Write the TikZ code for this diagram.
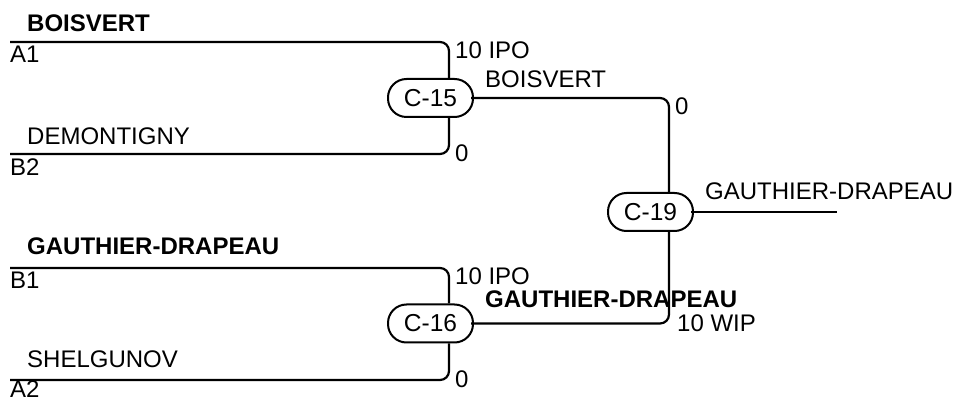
\documentclass[tikz,border=0pt]{standalone}
\usepackage{fontspec}
\setmainfont{Liberation Sans}
\begin{document}
\begin{tikzpicture}[x=1pt,y=-1pt,
  lbl/.style={anchor=base west,inner sep=0pt,font=\fontsize{24}{27}\selectfont},
  blbl/.style={lbl,font=\fontsize{24}{27}\selectfont\bfseries},
  match/.style={draw,line width=2pt,rounded corners=18.5pt,minimum width=85pt,minimum height=38pt,inner sep=0pt,font=\fontsize{24.5}{27}\selectfont},
  wire/.style={line width=2.2pt,rounded corners=9pt}]
\useasboundingbox (0,0) rectangle (962,403);
% match nodes
\node[match] (C15) at (430.5,98) {C-15};
\node[match] (C16) at (430.5,323.5) {C-16};
\node[match] (C19) at (650.5,212) {C-19};
% line endpoints
\coordinate (A1) at (10,42);
\coordinate (B2) at (10,154);
\coordinate (B1) at (10,268);
\coordinate (A2) at (10,380);
\coordinate (W) at (837,212);
% wires
\draw[wire] (A1) -| ([xshift=18.5pt]C15.north);
\draw[wire] (B2) -| ([xshift=18.5pt]C15.south);
\draw[wire] (B1) -| ([xshift=18.5pt]C16.north);
\draw[wire] (A2) -| ([xshift=18.5pt]C16.south);
\draw[wire] ([xshift=-3pt]C15.east) -| ([xshift=18.5pt]C19.north);
\draw[wire] ([xshift=-3pt]C16.east) -| ([xshift=18.5pt]C19.south);
\draw[wire] ([xshift=-3pt]C19.east) -- (W);
% labels group 1
\node[blbl] (t1) at (27,32) {BOISVERT};
\node[lbl] (t2) at (10,63) {A1};
\node[lbl] (t3) at (455,59) {10 IPO};
\node[lbl] (t4) at (485,88) {BOISVERT};
\node[lbl] (t5) at (27,145) {DEMONTIGNY};
\node[lbl] (t6) at (10,176) {B2};
\node[lbl] (t7) at (455,162) {0};
\node[lbl] (t8) at (675,115) {0};
% final
\node[lbl] (t9) at (705,200) {GAUTHIER-DRAPEAU};
% labels group 2
\node[blbl] (u1) at (27,255) {GAUTHIER-DRAPEAU};
\node[lbl] (u2) at (10,289) {B1};
\node[lbl] (u3) at (455,285) {10 IPO};
\node[blbl] (u4) at (485,308) {GAUTHIER-DRAPEAU};
\node[lbl] (u5) at (27,368) {SHELGUNOV};
\node[lbl] (u6) at (10,398) {A2};
\node[lbl] (u7) at (455,388) {0};
\node[lbl] (u8) at (677,332) {10 WIP};
\end{tikzpicture}
\end{document}
